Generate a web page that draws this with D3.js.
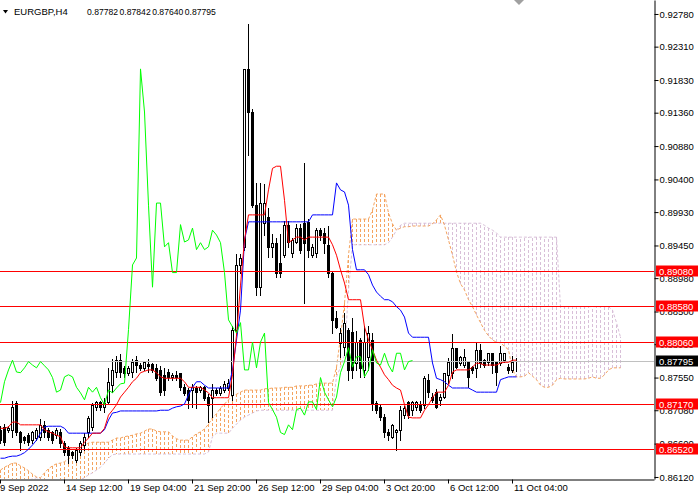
<!DOCTYPE html>
<html>
<head>
<meta charset="utf-8">
<title>EURGBP,H4 Ichimoku</title>
<script src="https://cdn.jsdelivr.net/npm/d3@7"></script>
<style>
  body { margin: 0; background: #fff; }
  svg text { font-family: "Liberation Sans", Arial, sans-serif; font-size: 9.5px; fill: #000; }
  .head text { font-size: 8.6px; }
</style>
</head>
<body>
<svg width="700" height="500"></svg>
<script>
// header
const symbol = "EURGBP,H4";
const lastBar = [0.87782, 0.87842, 0.87640, 0.87795];

// time axis: one label every 16 bars
const timeLabelBars = [0, 16, 32, 48, 64, 80, 96, 112, 128];
const timeLabels = ["9 Sep 2022", "14 Sep 12:00", "19 Sep 04:00", "21 Sep 20:00", "26 Sep 12:00",
                    "29 Sep 04:00", "3 Oct 20:00", "6 Oct 12:00", "11 Oct 04:00"];

// price axis
const priceTicks = [0.92780, 0.92310, 0.91830, 0.91360, 0.90880, 0.90400, 0.89930, 0.89450,
                    0.88980, 0.88500, 0.88030, 0.87550, 0.87080, 0.86600, 0.86120];
const levels = [0.89080, 0.88580, 0.88060, 0.87170, 0.86520];
const bid = 0.87795;

// H4 candles
const open = [
  0.8680,0.8684,0.8680,0.8680,0.8719,0.8676,0.8670,0.8673,0.8665,0.8668,
  0.8670,0.8687,0.8680,0.8676,0.8673,0.8677,0.8661,0.8654,0.8648,0.8637,
  0.8648,0.8658,0.8676,0.8684,0.8713,0.8720,0.8713,0.8720,0.8745,0.8763,
  0.8780,0.8769,0.8762,0.8763,0.8780,0.8773,0.8769,0.8775,0.8775,0.8769,
  0.8766,0.8759,0.8763,0.8756,0.8759,0.8762,0.8741,0.8737,0.8737,0.8740,
  0.8737,0.8741,0.8727,0.8726,0.8737,0.8733,0.8737,0.8740,0.8730,0.8824,
  0.8917,0.8943,0.9199,0.9137,0.9003,0.8885,0.8977,0.8986,0.8943,0.8949,
  0.8920,0.8931,0.8975,0.8934,0.8950,0.8970,0.8977,0.8979,0.8931,0.8934,
  0.8967,0.8963,0.8946,0.8906,0.8841,0.8805,0.8799,0.8824,0.8821,0.8776,
  0.8809,0.8766,0.8785,0.8809,0.8719,0.8713,0.8698,0.8677,0.8670,0.8676,
  0.8680,0.8701,0.8720,0.8709,0.8713,0.8716,0.8716,0.8752,0.8727,0.8734,
  0.8723,0.8727,0.8759,0.8762,0.8798,0.8776,0.8773,0.8778,0.8770,0.8769,
  0.8795,0.8780,0.8778,0.8790,0.8778,0.8776,0.8780,0.8770,0.8766,0.87782
];
const high = [
  0.8687,0.8690,0.8687,0.8723,0.8723,0.8680,0.8673,0.8676,0.8680,0.8684,
  0.8697,0.8694,0.8684,0.8680,0.8684,0.8683,0.8665,0.8658,0.8651,0.8655,
  0.8665,0.8676,0.8701,0.8720,0.8723,0.8723,0.8727,0.8770,0.8783,0.8788,
  0.8790,0.8773,0.8773,0.8783,0.8788,0.8778,0.8780,0.8783,0.8778,0.8776,
  0.8773,0.8770,0.8769,0.8763,0.8766,0.8763,0.8747,0.8741,0.8747,0.8745,
  0.8745,0.8745,0.8733,0.8747,0.8741,0.8745,0.8752,0.8755,0.8831,0.8934,
  0.8934,0.9200,0.9265,0.9143,0.9036,0.9036,0.9035,0.9000,0.8963,0.8957,
  0.8963,0.8982,0.8982,0.8957,0.8977,0.8977,0.9065,0.8985,0.8949,0.8972,
  0.8972,0.8972,0.8975,0.8910,0.8852,0.8828,0.8850,0.8828,0.8842,0.8824,
  0.8813,0.8831,0.8831,0.8821,0.8723,0.8719,0.8704,0.8683,0.8690,0.8683,
  0.8716,0.8716,0.8723,0.8723,0.8723,0.8723,0.8759,0.8762,0.8734,0.8740,
  0.8733,0.8763,0.8785,0.8819,0.8799,0.8788,0.8798,0.8780,0.8773,0.8806,
  0.8805,0.8783,0.8792,0.8792,0.8780,0.8802,0.8792,0.8776,0.8788,0.87842
];
const low = [
  0.8661,0.8658,0.8676,0.8670,0.8673,0.8651,0.8661,0.8658,0.8661,0.8665,
  0.8665,0.8670,0.8665,0.8661,0.8668,0.8655,0.8644,0.8632,0.8640,0.8634,
  0.8644,0.8651,0.8670,0.8680,0.8709,0.8709,0.8706,0.8719,0.8734,0.8756,
  0.8756,0.8756,0.8759,0.8756,0.8763,0.8766,0.8766,0.8763,0.8763,0.8752,
  0.8730,0.8730,0.8752,0.8752,0.8752,0.8737,0.8730,0.8711,0.8713,0.8711,
  0.8734,0.8723,0.8691,0.8698,0.8730,0.8730,0.8734,0.8737,0.8723,0.8816,
  0.8906,0.8939,0.9075,0.9000,0.8874,0.8874,0.8960,0.8928,0.8928,0.8900,
  0.8900,0.8928,0.8943,0.8928,0.8949,0.8934,0.8862,0.8928,0.8928,0.8928,
  0.8953,0.8934,0.8900,0.8819,0.8826,0.8785,0.8788,0.8752,0.8755,0.8766,
  0.8756,0.8756,0.8766,0.8709,0.8704,0.8694,0.8670,0.8665,0.8668,0.8651,
  0.8665,0.8697,0.8697,0.8701,0.8709,0.8706,0.8711,0.8727,0.8720,0.8711,
  0.8716,0.8726,0.8747,0.8755,0.8769,0.8773,0.8770,0.8741,0.8762,0.8756,
  0.8770,0.8770,0.8773,0.8762,0.8745,0.8773,0.8778,0.8762,0.8763,0.87640
];
const close = [
  0.8665,0.8663,0.8683,0.8713,0.8676,0.8663,0.8665,0.8663,0.8676,0.8680,
  0.8687,0.8676,0.8670,0.8665,0.8680,0.8661,0.8648,0.8644,0.8644,0.8651,
  0.8661,0.8670,0.8697,0.8716,0.8720,0.8713,0.8719,0.8749,0.8766,0.8780,
  0.8763,0.8762,0.8769,0.8778,0.8773,0.8769,0.8778,0.8772,0.8766,0.8755,
  0.8734,0.8737,0.8756,0.8759,0.8756,0.8741,0.8733,0.8723,0.8741,0.8734,
  0.8741,0.8726,0.8716,0.8737,0.8733,0.8740,0.8746,0.8747,0.8824,0.8917,
  0.8927,0.9199,0.9137,0.9003,0.8885,0.9006,0.9006,0.8943,0.8949,0.8906,
  0.8906,0.8975,0.8950,0.8953,0.8970,0.8939,0.8949,0.8939,0.8943,0.8967,
  0.8960,0.8949,0.8906,0.8838,0.8828,0.8819,0.8834,0.8766,0.8766,0.8806,
  0.8769,0.8806,0.8819,0.8719,0.8709,0.8698,0.8676,0.8673,0.8687,0.8680,
  0.8709,0.8711,0.8701,0.8720,0.8720,0.8709,0.8755,0.8734,0.8723,0.8713,
  0.8727,0.8762,0.8778,0.8798,0.8770,0.8785,0.8785,0.8756,0.8766,0.8795,
  0.8776,0.8773,0.8790,0.8773,0.8763,0.8790,0.8790,0.8766,0.8778,0.87795
];

// Ichimoku lines, one value per bar
const tenkan = [
  0.8682,0.8682,0.8684,0.8691,0.8691,0.8687,0.8687,0.8687,0.8687,0.8687,
  0.8687,0.8680,0.8677,0.8675,0.8672,0.8670,0.8655,0.8654,0.8654,0.8654,
  0.8654,0.8662,0.8668,0.8675,0.8675,0.8675,0.8682,0.8701,0.8708,0.8716,
  0.8727,0.8734,0.8741,0.8749,0.8754,0.8762,0.8764,0.8766,0.8766,0.8762,
  0.8756,0.8754,0.8754,0.8754,0.8754,0.8754,0.8749,0.8741,0.8741,0.8741,
  0.8741,0.8737,0.8733,0.8726,0.8726,0.8726,0.8726,0.8726,0.8759,0.8816,
  0.8888,0.8953,0.8989,0.8989,0.8989,0.8989,0.8989,0.9025,0.9056,0.9059,
  0.9059,0.9010,0.8949,0.8953,0.8957,0.8957,0.8953,0.8957,0.8957,0.8957,
  0.8957,0.8957,0.8957,0.8946,0.8931,0.8910,0.8891,0.8867,0.8867,0.8867,
  0.8867,0.8828,0.8809,0.8795,0.8780,0.8770,0.8759,0.8752,0.8744,0.8740,
  0.8737,0.8716,0.8698,0.8697,0.8697,0.8697,0.8708,0.8716,0.8726,0.8734,
  0.8734,0.8734,0.8744,0.8763,0.8766,0.8766,0.8766,0.8766,0.8770,0.8776,
  0.8775,0.8773,0.8773,0.8773,0.8773,0.8776,0.8777,0.8777,0.8780,0.8780
];
const kijun = [
  0.8639,0.8639,0.8641,0.8642,0.8642,0.8644,0.8647,0.8652,0.8658,0.8665,
  0.8675,0.8684,0.8685,0.8685,0.8685,0.8685,0.8682,0.8675,0.8675,0.8675,
  0.8675,0.8675,0.8675,0.8675,0.8675,0.8675,0.8680,0.8694,0.8704,0.8705,
  0.8707,0.8707,0.8707,0.8707,0.8707,0.8707,0.8707,0.8707,0.8707,0.8707,
  0.8708,0.8708,0.8708,0.8711,0.8713,0.8714,0.8717,0.8730,0.8741,0.8749,
  0.8749,0.8744,0.8740,0.8740,0.8740,0.8740,0.8740,0.8740,0.8766,0.8809,
  0.8852,0.8953,0.8979,0.8979,0.8979,0.8979,0.8979,0.8979,0.8979,0.8979,
  0.8979,0.8979,0.8979,0.8979,0.8979,0.8979,0.8979,0.8979,0.8989,0.8989,
  0.8989,0.8989,0.8989,0.8989,0.9035,0.9025,0.9022,0.9003,0.8939,0.8910,
  0.8910,0.8910,0.8903,0.8888,0.8878,0.8872,0.8867,0.8867,0.8864,0.8857,
  0.8852,0.8842,0.8819,0.8813,0.8813,0.8813,0.8813,0.8813,0.8776,0.8754,
  0.8752,0.8749,0.8744,0.8740,0.8740,0.8740,0.8740,0.8740,0.8737,0.8734,
  0.8734,0.8734,0.8734,0.8734,0.8734,0.8752,0.8754,0.8756,0.8756,0.8756
];
// cloud spans, already shifted 26 bars forward
const senkouA = [
  0.8622,0.8626,0.8629,0.8632,0.8632,0.8628,0.8625,0.8621,0.8616,0.8612,
  0.8611,0.8618,0.8624,0.8628,0.8631,0.8632,0.8634,0.8638,0.8642,0.8647,
  0.8649,0.8657,0.8661,0.8662,0.8662,0.8662,0.8662,0.8662,0.8665,0.8668,
  0.8668,0.8670,0.8671,0.8672,0.8674,0.8675,0.8678,0.8681,0.8681,0.8678,
  0.8677,0.8677,0.8677,0.8671,0.8667,0.8665,0.8665,0.8665,0.8670,0.8674,
  0.8677,0.8681,0.8688,0.8697,0.8703,0.8711,0.8717,0.8723,0.8729,0.8731,
  0.8734,0.8737,0.8737,0.8737,0.8737,0.8737,0.8739,0.8739,0.8740,0.8740,
  0.8740,0.8741,0.8741,0.8741,0.8743,0.8743,0.8743,0.8744,0.8744,0.8746,
  0.8747,0.8747,0.8747,0.8747,0.8770,0.8813,0.8862,0.8931,0.8983,0.8983,
  0.8983,0.8983,0.8983,0.8996,0.9019,0.9019,0.9019,0.8992,0.8976,0.8967,
  0.8970,0.8972,0.8972,0.8973,0.8973,0.8973,0.8973,0.8973,0.8976,0.8982,
  0.8989,0.8974,0.8953,0.8931,0.8907,0.8890,0.8881,0.8867,0.8857,0.8845,
  0.8834,0.8823,0.8815,0.8809,0.8806,0.8805,0.8800,0.8795,0.8766,0.8756,
  0.8756,0.8757,0.8762,0.8757,0.8752,0.8744,0.8741,0.8741,0.8744,0.8752,
  0.8754,0.8753,0.8753,0.8753,0.8753,0.8753,0.8753,0.8754,0.8756,0.8754,
  0.8754,0.8759,0.8766,0.8769,0.8769,0.8769
];
const senkouB = [
  0.8602,0.8603,0.8605,0.8606,0.8606,0.8606,0.8608,0.8608,0.8609,0.8611,
  0.8609,0.8606,0.8603,0.8603,0.8603,0.8603,0.8603,0.8603,0.8603,0.8603,
  0.8608,0.8611,0.8615,0.8618,0.8622,0.8626,0.8632,0.8639,0.8644,0.8645,
  0.8645,0.8645,0.8645,0.8645,0.8645,0.8645,0.8645,0.8645,0.8645,0.8645,
  0.8645,0.8645,0.8645,0.8645,0.8645,0.8645,0.8645,0.8645,0.8645,0.8645,
  0.8645,0.8645,0.8648,0.8670,0.8675,0.8675,0.8675,0.8675,0.8682,0.8688,
  0.8694,0.8698,0.8701,0.8704,0.8707,0.8708,0.8708,0.8708,0.8708,0.8708,
  0.8708,0.8708,0.8708,0.8708,0.8708,0.8708,0.8708,0.8708,0.8708,0.8708,
  0.8708,0.8708,0.8708,0.8708,0.8756,0.8770,0.8787,0.8881,0.8946,0.8946,
  0.8946,0.8946,0.8946,0.8946,0.8946,0.8946,0.8946,0.8949,0.8957,0.8967,
  0.8974,0.8977,0.8977,0.8977,0.8977,0.8977,0.8977,0.8977,0.8977,0.8977,
  0.8977,0.8977,0.8977,0.8977,0.8977,0.8977,0.8977,0.8977,0.8977,0.8977,
  0.8977,0.8974,0.8970,0.8967,0.8963,0.8957,0.8957,0.8957,0.8957,0.8957,
  0.8957,0.8957,0.8957,0.8957,0.8957,0.8957,0.8957,0.8957,0.8957,0.8957,
  0.8857,0.8857,0.8857,0.8857,0.8857,0.8857,0.8857,0.8857,0.8857,0.8857,
  0.8857,0.8857,0.8857,0.8852,0.8834,0.8813
];

const svg = d3.select("svg");
const W = 654, H = 479;
const sandy = "#f4a460", thistle = "#d8bfd8";

// 4 px per bar, price scale as on the terminal
const x = d3.scaleLinear().domain([0, 163.5]).range([0, W]);
const y = d3.scaleLinear().domain([0.86091, 0.92981]).range([H, 0]);
const px = i => Math.round(x(i)) + 0.5;
const py = v => Math.round(y(v)) + 0.5;

svg.append("clipPath").attr("id", "plot")
  .append("rect").attr("width", W).attr("height", H);
const plot = svg.append("g").attr("clip-path", "url(#plot)");

// cloud hatch
const bars = d3.range(senkouA.length);
plot.append("g")
  .selectAll("line")
  .data(bars)
  .join("line")
  .attr("x1", px).attr("x2", px)
  .attr("y1", i => y(senkouA[i]))
  .attr("y2", i => y(senkouB[i]))
  .attr("stroke", i => senkouA[i] >= senkouB[i] ? sandy : thistle)
  .attr("stroke-dasharray", "3,2")
  .attr("shape-rendering", "crispEdges");

const line = d3.line().x((d, i) => px(i)).y(d => y(d));
plot.append("path").attr("d", line(senkouB))
  .attr("fill", "none").attr("stroke", thistle).attr("stroke-dasharray", "3,2");
plot.append("path").attr("d", line(senkouA))
  .attr("fill", "none").attr("stroke", sandy).attr("stroke-dasharray", "3,2");

// candles
const candles = plot.append("g").attr("shape-rendering", "crispEdges");
candles.selectAll("line")
  .data(open)
  .join("line")
  .attr("x1", (d, i) => px(i)).attr("x2", (d, i) => px(i))
  .attr("y1", (d, i) => py(high[i])).attr("y2", (d, i) => py(low[i]))
  .attr("stroke", "#000");
candles.selectAll("rect")
  .data(open)
  .join("rect")
  .attr("x", (d, i) => px(i) - 1)
  .attr("width", 2)
  .attr("y", (d, i) => py(Math.max(d, close[i])))
  .attr("height", (d, i) => py(Math.min(d, close[i])) - py(Math.max(d, close[i])))
  .attr("fill", (d, i) => close[i] >= d ? "#fff" : "#000")
  .attr("stroke", "#000");

// horizontal levels and bid line
const hl = plot.append("g").attr("shape-rendering", "crispEdges");
hl.selectAll("line.lvl")
  .data(levels)
  .join("line")
  .attr("class", "lvl")
  .attr("x1", 0).attr("x2", W)
  .attr("y1", py).attr("y2", py)
  .attr("stroke", "#ff0000");
hl.append("line")
  .attr("x1", 0).attr("x2", W)
  .attr("y1", py(bid)).attr("y2", py(bid))
  .attr("stroke", "#c0c0c0");

// tenkan, kijun, chikou
plot.append("path").attr("d", line(kijun))
  .attr("fill", "none").attr("stroke", "#0000ff");
plot.append("path").attr("d", line(tenkan))
  .attr("fill", "none").attr("stroke", "#ff0000");
plot.append("path").attr("d", line(close.slice(26)))
  .attr("fill", "none").attr("stroke", "#00ff00");

// price axis
const yAxis = svg.append("g")
  .attr("transform", `translate(${W + 0.5},0)`)
  .call(d3.axisRight(y).tickValues(priceTicks).tickSize(4).tickSizeOuter(0)
    .tickPadding(1).tickFormat(d3.format(".5f")));
yAxis.attr("font-family", null).attr("font-size", null);
yAxis.selectAll("text").attr("fill", "#000");

// time axis
const xAxis = svg.append("g")
  .attr("transform", `translate(0,${H + 0.5})`)
  .call(d3.axisBottom(x).tickValues(timeLabelBars).tickSize(4).tickSizeOuter(0)
    .tickFormat((d, i) => timeLabels[i]));
xAxis.attr("font-family", null).attr("font-size", null);
xAxis.selectAll("text").attr("fill", "#000")
  .attr("text-anchor", "start")
  .attr("x", d => d === 0 ? -0.5 : 1.5)
  .attr("y", 5).attr("dy", "0.71em");

// level tags on the price axis
const tags = svg.append("g");
const tag = (v, bg) => {
  const g = tags.append("g").attr("transform", `translate(656,${Math.round(y(v))})`);
  g.append("rect").attr("x", 0).attr("y", -5.5).attr("width", 42).attr("height", 11).attr("fill", bg);
  g.append("text").attr("x", 3).attr("y", 3.5).style("fill", "#fff").text(d3.format(".5f")(v));
};
levels.forEach(v => tag(v, "#ff0000"));
tag(bid, "#000");

// header
const head = svg.append("g").attr("class", "head");
head.append("path").attr("d", "M3,10 L8,10 L5.5,13.5 Z").attr("fill", "#000");
head.append("text").attr("x", 14).attr("y", 15).style("font-size", "9.5px").text(symbol);
head.selectAll("text.v")
  .data(lastBar)
  .join("text")
  .attr("class", "v")
  .attr("x", (d, i) => 87 + i * 32.6)
  .attr("y", 15)
  .text(d => d3.format(".5f")(d));

// chart shift marker
svg.append("path").attr("d", "M514,0 L524,0 L519,5 Z").attr("fill", "#a0a0a0");
</script>
</body>
</html>
